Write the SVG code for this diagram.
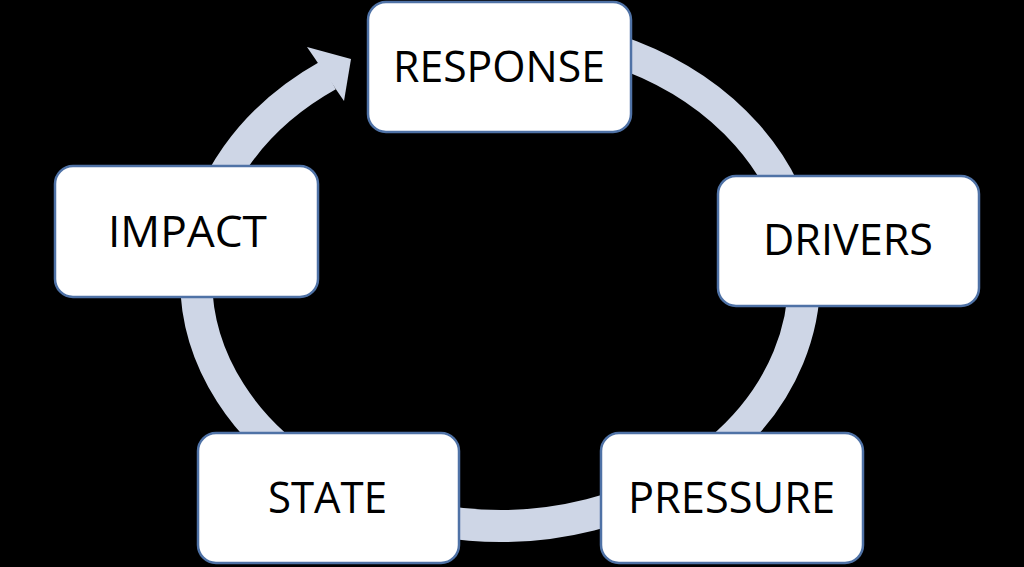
<svg xmlns="http://www.w3.org/2000/svg" width="1024" height="567" viewBox="0 0 1024 567">
  <style>
    .box { fill: #ffffff; stroke: #4f72a6; stroke-width: 2.5; }
    .label { font-family: "Open Sans", "Liberation Sans", sans-serif; font-size: 44px; fill: #000000; text-anchor: middle; }
    .ring { fill: none; stroke: #ced6e6; stroke-width: 32; stroke-linecap: butt; }
    .head { fill: #ced6e6; }
  </style>
  <rect x="0" y="0" width="1024" height="567" fill="#000000"/>
  <g id="connectors">
    <path class="ring" d="M 500 32 A 304 247 0 1 1 328 75.4"/>
    <polygon class="head" points="307,47 351,59 344,101"/>
  </g>
  <g id="node-response">
    <rect class="box" x="368" y="2" width="263" height="130" rx="18"/>
    <text class="label" x="499" y="82" textLength="212" lengthAdjust="spacingAndGlyphs">RESPONSE</text>
  </g>
  <g id="node-drivers">
    <rect class="box" x="718" y="176" width="261" height="130" rx="18"/>
    <text class="label" x="848" y="255" textLength="170" lengthAdjust="spacingAndGlyphs">DRIVERS</text>
  </g>
  <g id="node-pressure">
    <rect class="box" x="601" y="433" width="262" height="130" rx="18"/>
    <text class="label" x="731.5" y="513" textLength="207" lengthAdjust="spacingAndGlyphs">PRESSURE</text>
  </g>
  <g id="node-state">
    <rect class="box" x="198" y="433" width="261" height="130" rx="18"/>
    <text class="label" x="327.5" y="513" textLength="119" lengthAdjust="spacingAndGlyphs">STATE</text>
  </g>
  <g id="node-impact">
    <rect class="box" x="55" y="166" width="263" height="131" rx="18"/>
    <text class="label" x="187.5" y="247" textLength="159" lengthAdjust="spacingAndGlyphs">IMPACT</text>
  </g>
</svg>
